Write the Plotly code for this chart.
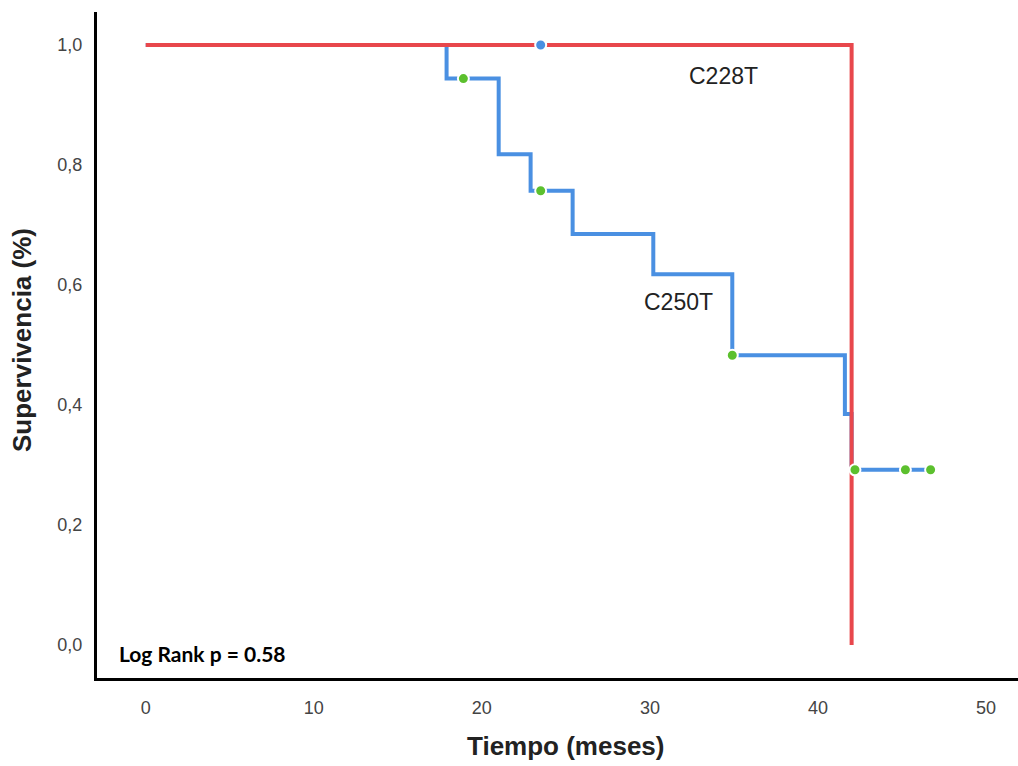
import plotly.graph_objects as go

# Data
blue_time = [0, 17.9, 21.0, 22.9, 25.4, 30.2, 34.9, 41.6, 42.0, 46.7]
blue_surv = [1.0, 0.944, 0.818, 0.757, 0.685, 0.618, 0.483, 0.385, 0.292, 0.292]
blue_cens_time = [18.9, 23.5, 34.9, 42.2, 45.2, 46.7]
blue_cens_surv = [0.944, 0.757, 0.483, 0.292, 0.292, 0.292]

red_time = [0, 42.0]
red_surv = [1.0, 0.0]
red_cens_time = [23.5]
red_cens_surv = [1.0]

x_ticks = [0, 10, 20, 30, 40, 50]
y_ticks = [0.0, 0.2, 0.4, 0.6, 0.8, 1.0]

RED = "#E8474C"
BLUE = "#4A90E2"
GREEN = "#5CC02E"
FONT = "Liberation Sans, Arial"

fig = go.Figure()
fig.add_trace(go.Scatter(x=blue_time, y=blue_surv, mode="lines",
                         line=dict(shape="hv", color=BLUE, width=4), hoverinfo="skip"))
fig.add_trace(go.Scatter(x=red_time, y=red_surv, mode="lines",
                         line=dict(shape="hv", color=RED, width=4), hoverinfo="skip"))
fig.add_trace(go.Scatter(x=blue_cens_time, y=blue_cens_surv, mode="markers",
                         marker=dict(color=GREEN, size=11, line=dict(color="white", width=2))))
fig.add_trace(go.Scatter(x=red_cens_time, y=red_cens_surv, mode="markers",
                         marker=dict(color=BLUE, size=11, line=dict(color="white", width=2))))

fig.add_annotation(x=34.4, y=0.949, text="C228T", showarrow=False,
                   font=dict(family=FONT, size=23, color="#222"))
fig.add_annotation(x=31.7, y=0.571, text="C250T", showarrow=False,
                   font=dict(family=FONT, size=23, color="#222"))
fig.add_annotation(x=-1.7, y=-0.014, text="<b>Log Rank p = 0.58</b>", showarrow=False,
                   xanchor="left", yanchor="middle",
                   font=dict(family="Lato, Open Sans", size=21, color="black"))
fig.add_annotation(xref="paper", yref="paper", x=(565 - 97) / 921, y=(678 - 746) / 666,
                   text="<b>Tiempo (meses)</b>", showarrow=False, xanchor="center", yanchor="middle",
                   font=dict(family=FONT, size=26, color="#222"))
fig.add_annotation(xref="paper", yref="paper", x=(22 - 97) / 921, y=(678 - 340) / 666,
                   text="<b>Supervivencia (%)</b>", showarrow=False, textangle=-90,
                   xanchor="center", yanchor="middle",
                   font=dict(family=FONT, size=26, color="#222"))

fig.update_layout(
    width=1018, height=766,
    margin=dict(l=97, r=0, t=12, b=88),
    plot_bgcolor="white", paper_bgcolor="white",
    showlegend=False,
    separators=",.",
    xaxis=dict(range=[-2.9, 51.9], tickvals=x_ticks, showgrid=False, zeroline=False,
               showline=True, linecolor="black", linewidth=3, ticks="",
               ticklabelstandoff=11,
               tickfont=dict(family=FONT, size=18, color="#444")),
    yaxis=dict(range=[-0.055, 1.055], tickvals=y_ticks, tickformat=".1f", showgrid=False,
               zeroline=False, showline=True, linecolor="black", linewidth=3, ticks="",
               ticklabelstandoff=8,
               tickfont=dict(family=FONT, size=18, color="#444")),
)

fig.write_html("out.html")
